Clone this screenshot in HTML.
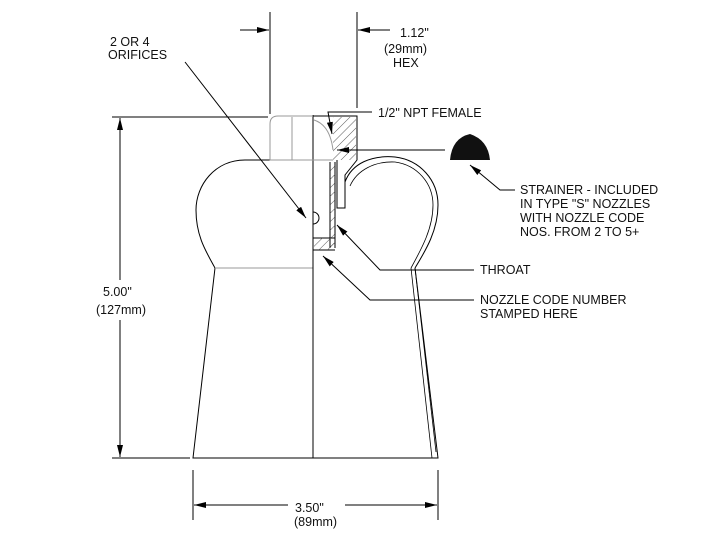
<!DOCTYPE html>
<html><head><style>
body{margin:0;background:#fff;}
svg{display:block;font-family:"Liberation Sans",Arial,sans-serif;}
text{fill:#111;font-size:12.5px;}
</style></head><body>
<svg width="706" height="560" viewBox="0 0 706 560" xmlns="http://www.w3.org/2000/svg">
<defs>
<marker id="a" viewBox="0 0 12 6" refX="12" refY="3" markerWidth="12" markerHeight="6" orient="auto" markerUnits="userSpaceOnUse"><path d="M0,0L12,3L0,6z" fill="#000"/></marker>
<pattern id="h" width="6" height="6" patternUnits="userSpaceOnUse" patternTransform="rotate(45)"><line x1="0" y1="0" x2="0" y2="6" stroke="#333" stroke-width="0.8"/></pattern>
</defs>
<g fill="none" stroke="#000" stroke-width="1">
<path d="M313,160 L245,160 C215,160 196,185 196,210 C196,235 205,250 215,268 L193,458 L438,458 L415,268" />
<path d="M345,182 C352,163 372,155 395,157 C420,160 438,180 438,205 C438,230 426,250 415,268"/>
<path d="M350,186 C357,170 375,161 395,162 C417,165 433,183 433,205 C433,228 422,248 411,268" stroke-width="0.8"/>
<path d="M411,268 L432,458 M415,268 L436,452" stroke-width="0.8"/>
<line x1="215" y1="268" x2="313" y2="268" stroke="#999"/>
<line x1="313" y1="115" x2="313" y2="458"/>
<path d="M313,116 L278,116 Q270,116 270,124 L270,160 L313,160" stroke="#999"/>
<line x1="292" y1="117" x2="292" y2="160" stroke="#999"/>
<path d="M313,116 L357,116 L357,160 L345,175 L345,208 L337,208 L337,160" />
<rect x="333" y="117" width="23" height="43" fill="url(#h)" stroke="none"/>
<path d="M314,120 Q330,125 333,150" stroke="#999"/>
<line x1="313" y1="160" x2="333" y2="160" stroke="#999"/>
<path d="M330,162 L330,248 M335,162 L335,248 M313,238 L335,238 M313,250 L335,250"/>
<rect x="330" y="163" width="5" height="85" fill="url(#h)" stroke="none"/>
<rect x="314" y="238" width="21" height="12" fill="url(#h)" stroke="none"/>
<path d="M313,212 A6,6 0 0 1 313,224" />
<line x1="112" y1="117" x2="268" y2="117"/>
<line x1="112" y1="458" x2="190" y2="458"/>
<line x1="120" y1="280" x2="120" y2="118" marker-end="url(#a)"/>
<line x1="120" y1="320" x2="120" y2="457" marker-end="url(#a)"/>
<line x1="270" y1="12" x2="270" y2="114"/>
<line x1="357" y1="12" x2="357" y2="108"/>
<line x1="240" y1="30" x2="269" y2="30" marker-end="url(#a)"/>
<line x1="390" y1="30" x2="358" y2="30" marker-end="url(#a)"/>
<line x1="193" y1="470" x2="193" y2="520"/>
<line x1="438" y1="470" x2="438" y2="520"/>
<line x1="288" y1="505" x2="194" y2="505" marker-end="url(#a)"/>
<line x1="345" y1="505" x2="437" y2="505" marker-end="url(#a)"/>
<line x1="185" y1="62" x2="306" y2="218" marker-end="url(#a)"/>
<polyline points="372,112 328,112 332,134" marker-end="url(#a)"/>
<line x1="445" y1="150" x2="337" y2="150" marker-end="url(#a)"/>
<polyline points="515,190 500,190 470,165" marker-end="url(#a)"/>
<polyline points="474,270 380,270 337,225" marker-end="url(#a)"/>
<polyline points="474,300 370,300 323,256" marker-end="url(#a)"/>
</g>
<path d="M450,160 Q452,138 470,134 Q488,140 490,160 Z" fill="#111"/>
<text x="110" y="46">2 OR 4</text>
<text x="108" y="59">ORIFICES</text>
<text x="400" y="37" font-size="15">1.12"</text>
<text x="384" y="53" font-size="12">(29mm)</text>
<text x="393" y="67">HEX</text>
<text x="378" y="117">1/2" NPT FEMALE</text>
<text x="520" y="194">STRAINER - INCLUDED</text>
<text x="520" y="208">IN TYPE "S" NOZZLES</text>
<text x="520" y="222">WITH NOZZLE CODE</text>
<text x="520" y="236">NOS. FROM 2 TO 5+</text>
<text x="480" y="274">THROAT</text>
<text x="480" y="304">NOZZLE CODE NUMBER</text>
<text x="480" y="318">STAMPED HERE</text>
<text x="103" y="296">5.00"</text>
<text x="96" y="314" font-size="12">(127mm)</text>
<text x="295" y="512" font-size="16">3.50"</text>
<text x="294" y="526" font-size="12">(89mm)</text>
</svg>
</body></html>
